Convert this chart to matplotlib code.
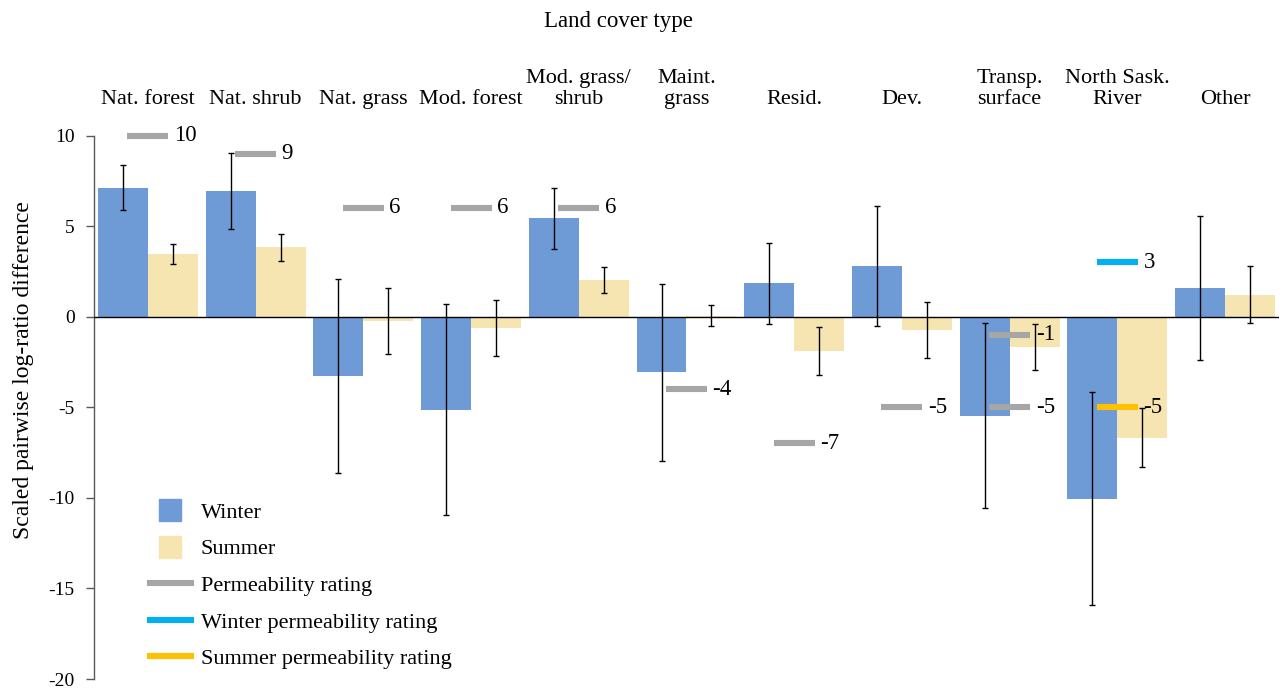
import matplotlib
matplotlib.use("Agg")
import matplotlib.pyplot as plt
from matplotlib.lines import Line2D
import numpy as np

plt.rcParams['font.family'] = ['Liberation Serif', 'DejaVu Serif']
plt.rcParams['axes.unicode_minus'] = False

# Land cover categories (top axis)
categories = ['Nat. forest', 'Nat. shrub', 'Nat. grass', 'Mod. forest',
              'Mod. grass/\nshrub', 'Maint.\ngrass', 'Resid.', 'Dev.',
              'Transp.\nsurface', 'North Sask.\nRiver', 'Other']

# Scaled pairwise log-ratio differences with error half-widths
winter = [7.12, 6.93, -3.26, -5.13, 5.44, -3.08, 1.84, 2.79, -5.46, -10.04, 1.58]
winter_err = [1.25, 2.08, 5.35, 5.83, 1.68, 4.86, 2.24, 3.31, 5.09, 5.88, 3.97]
summer = [3.44, 3.82, -0.24, -0.62, 2.00, 0.06, -1.89, -0.75, -1.66, -6.68, 1.22]
summer_err = [0.56, 0.74, 1.81, 1.53, 0.72, 0.58, 1.34, 1.55, 1.27, 1.63, 1.58]

# Expert permeability ratings (category index, rating)
perm_cat = [0, 1, 2, 3, 4, 5, 6, 7, 8, 8]
perm_val = [10, 9, 6, 6, 6, -4, -7, -5, -1, -5]
winter_perm_cat = [9]
winter_perm_val = [3]
summer_perm_cat = [9]
summer_perm_val = [-5]

c_winter = '#6E9BD6'
c_summer = '#F6E5B1'
c_perm = '#A6A6A6'
c_wperm = '#00B0F0'
c_sperm = '#FFC000'

W, H = 1286, 689
fig = plt.figure(figsize=(W / 100, H / 100), dpi=100)
ax = fig.add_axes([94 / W, 10 / H, 1185 / W, 543.5 / H])

x = np.arange(len(categories))
bw = 0.464
ax.bar(x - bw / 2, winter, bw, color=c_winter, zorder=2)
ax.bar(x + bw / 2, summer, bw, color=c_summer, zorder=2)
ax.errorbar(x - bw / 2, winter, yerr=winter_err, fmt='none', ecolor='black',
            elinewidth=1, capsize=2.5, capthick=1, zorder=4)
ax.errorbar(x + bw / 2, summer, yerr=summer_err, fmt='none', ecolor='black',
            elinewidth=1, capsize=2.5, capthick=1, zorder=4)

ax.axhline(0, color='black', lw=1, zorder=3)

half = 0.19


def rating_marks(cats, vals, color):
    cats = np.asarray(cats, dtype=float)
    ax.hlines(vals, cats - half, cats + half, colors=color, lw=4.4,
              zorder=5, clip_on=False)
    for c, v in zip(cats, vals):
        ax.annotate(f"{v}", (c + half, v), xytext=(4, 0),
                    textcoords='offset points', va='center', ha='left',
                    fontsize=16.5, zorder=6, annotation_clip=False)


rating_marks(perm_cat, perm_val, c_perm)
rating_marks(winter_perm_cat, winter_perm_val, c_wperm)
rating_marks(summer_perm_cat, summer_perm_val, c_sperm)

ax.set_xlim(-0.5, 10.5)
ax.set_ylim(-20, 10)
ax.set_yticks([-20, -15, -10, -5, 0, 5, 10])
ax.tick_params(axis='y', direction='out', length=6, width=1, color='#595959',
               labelsize=14, pad=8)
ax.xaxis.set_ticks_position('top')
ax.set_xticks(x)
ax.set_xticklabels(categories, fontsize=16, linespacing=1.15)
ax.tick_params(axis='x', length=0, pad=19)

for s in ['top', 'right', 'bottom']:
    ax.spines[s].set_visible(False)
ax.spines['left'].set_color('#595959')
ax.spines['left'].set_linewidth(1)

ax.set_ylabel('Scaled pairwise log-ratio difference', fontsize=17)
ax.yaxis.set_label_coords(-0.051, 0.568)

fig.text(618 / W, 1 - 22 / H, 'Land cover type', fontsize=16.5,
         ha='center', va='center')

handles = [
    Line2D([], [], marker='s', ls='none', markersize=16, color=c_winter),
    Line2D([], [], marker='s', ls='none', markersize=16, color=c_summer),
    Line2D([], [], color=c_perm, lw=4.4),
    Line2D([], [], color=c_wperm, lw=4.4),
    Line2D([], [], color=c_sperm, lw=4.4),
]
labels = ['Winter', 'Summer', 'Permeability rating',
          'Winter permeability rating', 'Summer permeability rating']
ax.legend(handles, labels, loc='upper left', bbox_to_anchor=(0.047, 0.325),
          frameon=False, fontsize=16, handlelength=1.85, handletextpad=0.45,
          labelspacing=0.72, borderpad=0, borderaxespad=0)

fig.savefig('out.png', dpi=100)
